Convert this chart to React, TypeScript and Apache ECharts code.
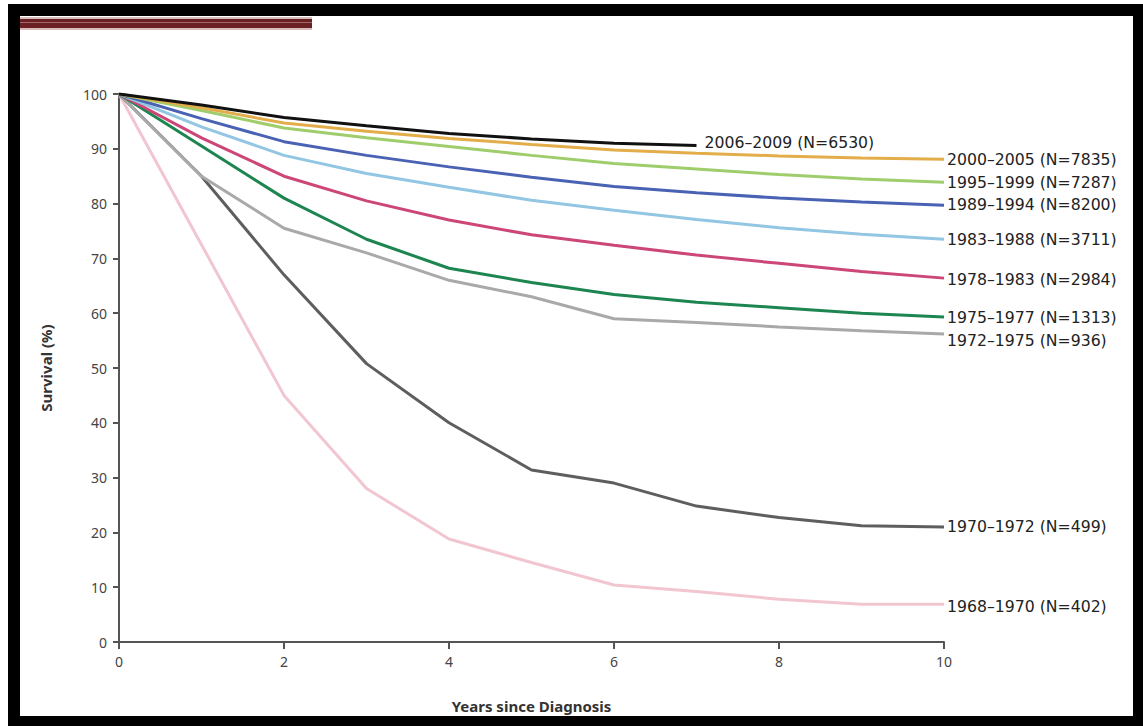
import React, { useEffect, useRef } from "react";
import * as echarts from "echarts";

const years = [0, 1, 2, 3, 4, 5, 6, 7, 8, 9, 10];
const yearTicks = [0, 2, 4, 6, 8, 10];
const survivalTicks = [0, 10, 20, 30, 40, 50, 60, 70, 80, 90, 100];

const seriesNames = [
  "1968–1970 (N=402)",
  "1970–1972 (N=499)",
  "1972–1975 (N=936)",
  "1975–1977 (N=1313)",
  "1978–1983 (N=2984)",
  "1983–1988 (N=3711)",
  "1989–1994 (N=8200)",
  "1995–1999 (N=7287)",
  "2000–2005 (N=7835)",
  "2006–2009 (N=6530)",
];

const s1968 = [100, 72.5, 45, 28, 18.8, 14.5, 10.4, 9.2, 7.8, 6.9, 6.9];
const s1970 = [100, 85, 67, 50.8, 40, 31.4, 29, 24.8, 22.7, 21.2, 21];
const s1972 = [100, 85, 75.5, 71, 66, 63, 59, 58.3, 57.5, 56.8, 56.2];
const s1975 = [100, 90.5, 81, 73.5, 68.2, 65.6, 63.4, 62, 61, 60, 59.3];
const s1978 = [100, 92, 85, 80.5, 77, 74.3, 72.4, 70.6, 69.1, 67.6, 66.4];
const s1983 = [100, 94, 88.8, 85.5, 83, 80.6, 78.8, 77.1, 75.6, 74.4, 73.5];
const s1989 = [100, 95.5, 91.3, 88.8, 86.7, 84.8, 83.1, 82, 81, 80.3, 79.7];
const s1995 = [100, 97, 93.8, 92, 90.4, 88.8, 87.3, 86.3, 85.3, 84.5, 83.9];
const s2000 = [100, 97.5, 94.7, 93.2, 91.9, 90.8, 89.8, 89.2, 88.7, 88.3, 88.1];
const s2006 = [100, 98, 95.7, 94.2, 92.8, 91.8, 91.0, 90.6];

const seriesValues = [s1968, s1970, s1972, s1975, s1978, s1983, s1989, s1995, s2000, s2006];

const colors = [
  "#f2c6d0",
  "#5e5e5e",
  "#a9a9a9",
  "#1d8550",
  "#cc4677",
  "#92c6e2",
  "#4a62b4",
  "#9fcd6c",
  "#e3ad4a",
  "#111111",
];
const labelOffsets: [number, number][] = [
  [0, 2],
  [0, 0],
  [0, 6],
  [0, 0],
  [0, 1],
  [0, 0],
  [0, -1],
  [0, 0],
  [0, 0],
  [0, -3],
];

export default function App() {
  const ref = useRef<HTMLDivElement>(null);
  useEffect(() => {
    if (!ref.current) return;
    const chart = echarts.init(ref.current, undefined, { renderer: "svg" });
    const font = "Noto Sans";
    const labelFont = "DejaVu Sans";
    const series = seriesValues.map((vals, i) => ({
      type: "line",
      name: seriesNames[i],
      data: vals.map((v, j) => [years[j], v]),
      showSymbol: false,
      symbol: "none",
      lineStyle: { color: colors[i], width: 3 },
      itemStyle: { color: colors[i] },
      z: 2 + i,
      endLabel: {
        show: true,
        formatter: seriesNames[i],
        color: "#222",
        fontFamily: labelFont,
        fontSize: 15.7,
        distance: i === 9 ? 8 : 3,
        offset: labelOffsets[i],
      },
    }));
    chart.setOption({
      animation: false,
      backgroundColor: "#ffffff",
      grid: { left: 119, right: 199, top: 94, bottom: 84, containLabel: false },
      xAxis: {
        type: "value",
        min: yearTicks[0],
        max: yearTicks[yearTicks.length - 1],
        interval: 2,
        name: "Years since Diagnosis",
        nameLocation: "middle",
        nameGap: 56,
        nameTextStyle: { fontFamily: font, fontSize: 15, fontWeight: "bold", color: "#333" },
        axisLine: { lineStyle: { color: "#555", width: 2 } },
        axisTick: { show: true, inside: false, length: 7, lineStyle: { color: "#555", width: 2 } },
        axisLabel: { margin: 12, fontFamily: font, fontSize: 14, color: "#444" },
        splitLine: { show: false },
      },
      yAxis: {
        type: "value",
        min: survivalTicks[0],
        max: survivalTicks[survivalTicks.length - 1],
        interval: 10,
        name: "Survival (%)",
        nameLocation: "middle",
        nameGap: 66,
        nameRotate: 90,
        nameTextStyle: { fontFamily: font, fontSize: 15, fontWeight: "bold", color: "#333" },
        axisLine: { show: true, lineStyle: { color: "#555", width: 2 } },
        axisTick: { show: true, inside: false, length: 6, lineStyle: { color: "#555", width: 2 } },
        axisLabel: { margin: 12, fontFamily: font, fontSize: 14, color: "#444" },
        splitLine: { show: false },
      },
      graphic: [
        { type: "rect", shape: { x: 8, y: 4, width: 1135, height: 12 }, style: { fill: "#000" }, silent: true },
        { type: "rect", shape: { x: 8, y: 4, width: 12, height: 722 }, style: { fill: "#000" }, silent: true },
        { type: "rect", shape: { x: 1133, y: 4, width: 10, height: 722 }, style: { fill: "#000" }, silent: true },
        { type: "rect", shape: { x: 8, y: 716, width: 1135, height: 10 }, style: { fill: "#000" }, silent: true },
        { type: "rect", shape: { x: 20, y: 17, width: 292, height: 13 }, style: { fill: "#d9bcbc" }, silent: true },
        { type: "rect", shape: { x: 20, y: 19, width: 292, height: 9 }, style: { fill: "#6b2024" }, silent: true },
        { type: "rect", shape: { x: 20, y: 22, width: 292, height: 1 }, style: { fill: "#a06a6c" }, silent: true },
      ],
      series,
    });
    return () => chart.dispose();
  }, []);
  return (
    <div
      ref={ref}
      style={{ position: "fixed", left: 0, top: 0, width: 1143, height: 726, background: "#fff" }}
    />
  );
}
